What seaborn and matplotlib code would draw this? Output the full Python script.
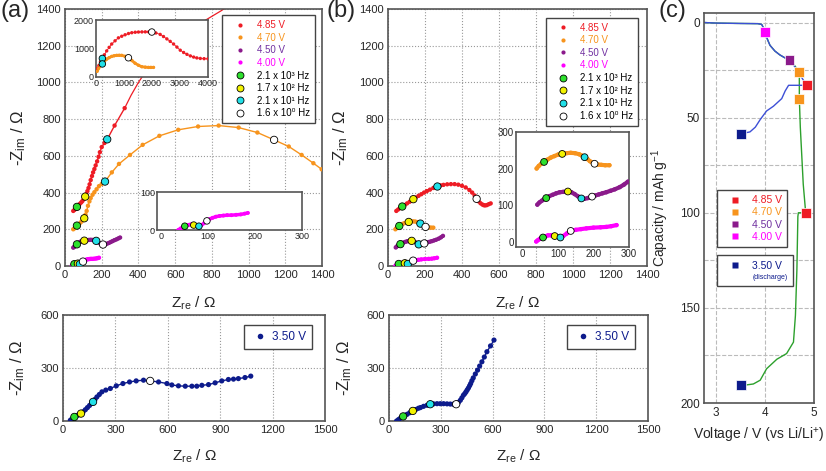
import matplotlib.pyplot as plt
import matplotlib.ticker as mticker
from matplotlib.lines import Line2D
import seaborn as sns

sns.set_style("white")
plt.rcParams['font.family'] = ['Liberation Sans', 'DejaVu Sans']
plt.rcParams['mathtext.fontset'] = 'custom'
plt.rcParams['mathtext.rm'] = 'Liberation Sans'
plt.rcParams['mathtext.it'] = 'Liberation Sans:italic'

# ---- colores
ROJO = '#ee1c25'
NARANJA = '#f7941d'
MORADO = '#8b1a8b'
MAGENTA = '#ff00ff'
AZUL = '#0d1b8c'
V_COLORES = [ROJO, NARANJA, MORADO, MAGENTA]
V_TEXTO = [ROJO, NARANJA, '#7030a0', MAGENTA]
F_COLORES = ['#2ee02e', '#f2f200', '#22e0e8', 'white']

V_LABELS = ['4.85 V', '4.70 V', '4.50 V', '4.00 V']
F_LABELS = ['2.1 x 10\u00b3 Hz', '1.7 x 10\u00b2 Hz', '2.1 x 10\u00b9 Hz', '1.6 x 10\u2070 Hz']

# ---- (a) Nyquist, carga
a_red_x = [45, 52, 58, 65, 72, 80, 88, 95, 103, 110, 116, 122, 128, 134, 140, 147, 153, 160, 167, 175, 183, 190, 200, 215, 230, 270, 325]
a_red_y = [300, 306, 313, 322, 330, 338, 346, 354, 365, 378, 392, 408, 425, 445, 468, 490, 510, 528, 548, 570, 595, 620, 648, 670, 690, 765, 860]
a_red_fit_x = [325, 360, 400, 450, 550, 650, 750, 850, 880]
a_red_fit_y = [860, 930, 1000, 1075, 1190, 1270, 1330, 1390, 1410]
a_red_f = ([65, 110, 230], [322, 378, 690])

a_or_x = [45, 52, 58, 65, 72, 80, 88, 95, 105, 112, 118, 125, 133, 140, 150, 160, 172, 185, 200, 218, 255, 294, 354, 423, 514, 617, 725, 837, 946, 1048, 1139, 1219, 1289, 1353, 1398]
a_or_y = [200, 206, 212, 220, 226, 232, 240, 248, 260, 280, 300, 328, 352, 370, 388, 402, 418, 435, 447, 460, 510, 556, 605, 660, 709, 742, 760, 765, 754, 727, 687, 651, 605, 560, 527]
a_or_f = ([65, 105, 218, 1139], [220, 260, 460, 687])

a_pu_x = [45, 50, 55, 60, 65, 70, 76, 83, 90, 98, 105, 112, 120, 130, 140, 150, 160, 170, 180, 190, 200, 210, 220, 230, 240, 250, 260, 270, 280, 290, 300]
a_pu_y = [100, 104, 108, 113, 118, 123, 128, 132, 135, 137, 138, 138, 140, 142, 143, 142, 140, 137, 131, 124, 119, 117, 118, 122, 126, 131, 136, 141, 145, 150, 155]
a_pu_f = ([65, 105, 170, 207], [118, 138, 137, 117])

a_mg_x = [37, 42, 47, 51, 56, 61, 65, 70, 75, 81, 86, 92, 98, 104, 110, 117, 125, 133, 141, 150, 160, 170, 178, 185]
a_mg_y = [0, 4, 7, 10, 12, 14, 15, 13, 11, 10, 12, 18, 24, 29, 32, 35, 37, 38, 39, 39, 40, 41, 43, 45]
a_mg_f = ([51, 70, 81, 98], [10, 13, 10, 24])

# inset (a): barrido completo 4.85 / 4.70 V
ins_red_x = [50, 100, 160, 227, 300, 382, 470, 561, 680, 800, 920, 1039, 1160, 1278, 1400, 1516, 1640, 1760, 1880, 1994, 2140, 2292, 2410, 2531, 2650, 2770, 2890, 3009, 3130, 3248, 3370, 3487, 3600, 3725, 3860, 4000]
ins_red_y = [300, 400, 530, 651, 780, 916, 1040, 1157, 1270, 1374, 1430, 1482, 1525, 1554, 1570, 1578, 1582, 1584, 1583, 1578, 1545, 1494, 1420, 1337, 1250, 1157, 1050, 940, 860, 795, 740, 699, 670, 651, 643, 639]
ins_red_f = ([227, 1994], [651, 1578])
ins_or_x = [40, 90, 150, 227, 300, 382, 470, 561, 650, 740, 830, 919, 1040, 1158, 1280, 1397, 1520, 1636, 1760, 1875, 1960, 2054]
ins_or_y = [200, 300, 390, 458, 550, 627, 680, 723, 745, 759, 762, 759, 725, 675, 580, 482, 410, 361, 345, 337, 337, 337]
ins_or_f = ([227, 1158], [458, 675])

# ---- (b) Nyquist
b_red_x = [45, 55, 65, 77, 90, 103, 117, 130, 137, 150, 165, 180, 195, 210, 227, 245, 267, 285, 300, 320, 340, 360, 380, 400, 420, 440, 455, 468, 479, 490, 500, 510, 518, 526, 535, 545, 555]
b_red_y = [300, 308, 316, 324, 332, 341, 350, 358, 364, 373, 382, 391, 400, 408, 416, 425, 433, 439, 442, 445, 446, 446, 443, 437, 428, 414, 400, 384, 366, 352, 342, 335, 331, 330, 332, 337, 341]
b_red_f = ([77, 137, 267, 479], [324, 364, 433, 366])

b_or_x = [40, 46, 53, 61, 70, 80, 90, 100, 112, 124, 136, 148, 160, 168, 175, 183, 190, 197, 203, 212, 222, 233, 245]
b_or_y = [200, 207, 213, 218, 224, 230, 234, 238, 240, 242, 243, 242, 239, 235, 231, 226, 220, 216, 213, 211, 210, 209, 209]
b_or_f = ([61, 112, 175, 203], [218, 240, 231, 213])

b_pu_x = [42, 48, 55, 61, 67, 75, 85, 95, 105, 115, 128, 138, 147, 156, 166, 175, 184, 190, 196, 205, 215, 225, 236, 248, 260, 274, 286, 297]
b_pu_y = [101, 107, 112, 116, 119, 124, 128, 132, 135, 136, 137, 135, 130, 124, 118, 117, 119, 121, 123, 126, 129, 132, 135, 139, 143, 149, 156, 164]
b_pu_f = ([67, 128, 166, 196], [119, 137, 118, 123])

b_mg_x = [39, 44, 50, 58, 65, 72, 80, 91, 100, 107, 115, 125, 136, 150, 165, 180, 200, 220, 236, 250, 265]
b_mg_y = [0, 4, 8, 11, 14, 17, 17, 15, 13, 11, 15, 22, 29, 32, 34, 36, 38, 39, 40, 42, 45]
b_mg_f = ([58, 91, 107, 136], [11, 15, 11, 29])

# ---- 3.50 V (descarga)
a_d_x = [42, 50, 58, 65, 75, 85, 95, 103, 115, 128, 140, 152, 163, 172, 183, 194, 208, 223, 245, 271, 305, 343, 381, 419, 461, 499, 547, 595, 623, 661, 700, 738, 766, 795, 833, 871, 909, 947, 976, 1004, 1042, 1075]
a_d_y = [4, 10, 17, 23, 28, 33, 38, 42, 52, 64, 76, 88, 99, 108, 122, 136, 150, 165, 175, 184, 199, 212, 221, 227, 231, 227, 221, 212, 204, 199, 197, 197, 197, 202, 206, 216, 227, 235, 237, 240, 246, 254]
a_d_f = ([65, 103, 172, 499], [23, 42, 108, 227])

b_d_x = [44, 55, 65, 75, 82, 92, 105, 120, 138, 155, 170, 182, 200, 220, 239, 258, 278, 297, 316, 336, 355, 372, 389, 402, 413, 422, 431, 439, 446, 453, 460, 467, 473, 480, 488, 500, 513, 525, 538, 552, 567, 588, 608]
b_d_y = [0, 8, 15, 21, 26, 32, 38, 47, 57, 65, 72, 76, 83, 89, 95, 97, 98, 98, 98, 97, 96, 95, 95, 105, 117, 131, 146, 155, 165, 176, 187, 200, 212, 228, 244, 266, 288, 311, 335, 362, 392, 425, 458]
b_d_f = ([82, 138, 239, 389], [26, 57, 95, 95])

# ---- (c) curvas de carga / descarga
c_verde_v = [2.75, 3.0, 3.5, 3.85, 3.93, 3.97, 4.0, 4.05, 4.1, 4.2, 4.3, 4.4, 4.5, 4.6, 4.7, 4.7, 4.7, 4.72, 4.75, 4.78, 4.83,
             4.68, 4.67, 4.65, 4.62, 4.58, 4.44, 4.24, 4.03, 3.9, 3.76, 3.56, 3.5]
c_verde_q = [0, 0.3, 0.5, 0.6, 1.0, 3, 5, 9, 12, 15, 17, 18.5, 19.5, 22.5, 26, 32, 40, 55, 70, 85, 100,
             100, 102, 130, 154, 168, 174, 177, 182, 188, 190, 190.7, 190.7]
c_azul_v = [2.75, 3.0, 3.5, 3.85, 3.93, 3.97, 4.0, 4.05, 4.1, 4.2, 4.3, 4.4, 4.5, 4.6, 4.7, 4.8, 4.85,
            4.48, 4.41, 4.34, 4.17, 4.03, 3.9, 3.8, 3.69, 3.52, 3.5]
c_azul_q = [0, 0.3, 0.5, 0.6, 1.0, 3, 5, 9, 12, 15, 17, 18.5, 19.5, 23, 27, 31, 33,
            33, 36, 40, 44, 46.5, 51, 55, 57.5, 58.4, 58.5]
c_sq_v = [4.0, 4.5, 4.7, 4.85, 4.7, 3.5, 4.83, 3.5]
c_sq_q = [5, 19.5, 26, 33, 40, 58.5, 100, 190.5]
c_sq_col = [MAGENTA, MORADO, NARANJA, ROJO, NARANJA, AZUL, ROJO, AZUL]

W, H = 826, 471
fig = plt.figure(figsize=(W / 100, H / 100), dpi=100)


def ejes(l, t, r, b):
    # posición en píxeles de la imagen original
    return fig.add_axes([l / W, 1 - b / H, (r - l) / W, (b - t) / H])


def estilo(ax, fs=8, grid=True):
    for sp in ax.spines.values():
        sp.set_color('#555555')
        sp.set_linewidth(1.2)
    ax.tick_params(labelsize=fs, direction='in', length=2.5, color='#555555', pad=3)
    if grid:
        ax.grid(True, ls=':', color='#999999', lw=0.8)
    ax.set_axisbelow(True)


def serie(ax, x, y, color, s=10, lw=1.0):
    sns.lineplot(x=x, y=y, sort=False, estimator=None, color=color, lw=lw, ax=ax)
    sns.scatterplot(x=x, y=y, color=color, s=s, edgecolor='none', ax=ax, zorder=3)


def frecuencias(ax, f, colores=F_COLORES, s=28):
    fx, fy = f
    sns.scatterplot(x=fx, y=fy, hue=list(range(len(fx))), palette=colores[:len(fx)], s=s,
                    edgecolor='black', linewidth=0.6, legend=False, ax=ax, zorder=4)


def leyenda_z(ax, anchor):
    hs = [Line2D([], [], ls='none', marker='o', ms=3, mfc=c, mec='none') for c in V_COLORES]
    hs += [Line2D([], [], ls='none', marker='o', ms=5, mfc=c, mec='black', mew=0.6) for c in F_COLORES]
    leg = ax.legend(hs, V_LABELS + F_LABELS, loc='upper right', bbox_to_anchor=anchor, fontsize=7,
                    fancybox=False, edgecolor='#444444', framealpha=1, labelspacing=0.27,
                    handletextpad=0.45, borderpad=0.5, handlelength=2.6)
    leg.get_frame().set_linewidth(1.0)
    for t, c in zip(leg.get_texts(), V_TEXTO + ['black'] * 4):
        t.set_color(c)


def etiquetas_z(ax, yl=-0.15, xl=-0.11):
    ax.set_xlabel('Z$_{\\rm re}$ / \u03a9', fontsize=11)
    ax.set_ylabel('-Z$_{\\rm im}$ / \u03a9', fontsize=12)
    ax.xaxis.set_label_coords(0.5, xl)
    ax.yaxis.set_label_coords(yl, 0.5)


# ================= (a) arriba
ax = ejes(65, 9, 322, 266)
estilo(ax)
serie(ax, a_red_x, a_red_y, ROJO)
sns.lineplot(x=a_red_fit_x, y=a_red_fit_y, sort=False, estimator=None, color=ROJO, lw=0.9, ax=ax)
serie(ax, a_or_x, a_or_y, NARANJA)
serie(ax, a_pu_x, a_pu_y, MORADO, lw=2.5)
serie(ax, a_mg_x, a_mg_y, MAGENTA, lw=2.5)
for f in [a_red_f, a_or_f, a_pu_f, a_mg_f]:
    frecuencias(ax, f)
ax.set_xlim(0, 1400)
ax.set_ylim(0, 1400)
ax.xaxis.set_major_locator(mticker.MultipleLocator(200))
ax.yaxis.set_major_locator(mticker.MultipleLocator(200))
etiquetas_z(ax, yl=-0.145)
leyenda_z(ax, (0.99, 0.995))

ins = ejes(96, 20, 208, 77)
estilo(ins, fs=6.5, grid=False)
serie(ins, ins_red_x, ins_red_y, ROJO, s=6, lw=0.6)
serie(ins, ins_or_x, ins_or_y, NARANJA, s=6, lw=2)
frecuencias(ins, ins_red_f, [F_COLORES[2], F_COLORES[3]], s=22)
frecuencias(ins, ins_or_f, [F_COLORES[2], F_COLORES[3]], s=22)
ins.set_xlim(0, 4000)
ins.set_ylim(0, 2000)
ins.set_xticks([0, 1000, 2000, 3000, 4000])
ins.set_yticks([0, 1000, 2000])
ins.tick_params(pad=1.5)

ins = ejes(157, 192, 302, 230)
estilo(ins, fs=6.5, grid=False)
serie(ins, a_mg_x, a_mg_y, MAGENTA, s=8, lw=2.5)
frecuencias(ins, a_mg_f, s=22)
ins.set_xlim(-8, 300)
ins.set_ylim(0, 100)
ins.set_xticks([0, 100, 200, 300])
ins.set_yticks([0, 100])
ins.tick_params(pad=1.5)

# ================= (b) arriba
ax = ejes(388, 9, 647, 266)
estilo(ax)
serie(ax, b_red_x, b_red_y, ROJO)
serie(ax, b_or_x, b_or_y, NARANJA, lw=2.5)
serie(ax, b_pu_x, b_pu_y, MORADO, lw=2.5)
serie(ax, b_mg_x, b_mg_y, MAGENTA, lw=2.5)
for f in [b_red_f, b_or_f, b_pu_f, b_mg_f]:
    frecuencias(ax, f)
ax.set_xlim(0, 1400)
ax.set_ylim(0, 1400)
ax.xaxis.set_major_locator(mticker.MultipleLocator(200))
ax.yaxis.set_major_locator(mticker.MultipleLocator(200))
etiquetas_z(ax, yl=-0.145)
leyenda_z(ax, (0.985, 0.985))

ins = ejes(516, 132, 629, 247)
estilo(ins, fs=7, grid=False)
serie(ins, b_or_x, b_or_y, NARANJA, s=10, lw=3)
serie(ins, b_pu_x, b_pu_y, MORADO, s=10, lw=3)
serie(ins, b_mg_x, b_mg_y, MAGENTA, s=10, lw=3)
for f in [b_or_f, b_pu_f, b_mg_f]:
    frecuencias(ins, f, s=24)
ins.set_xlim(-18, 300)
ins.set_ylim(-15, 300)
ins.set_xticks([0, 100, 200, 300])
ins.set_yticks([0, 100, 200, 300])
ins.tick_params(pad=1.5)

# ================= 3.50 V abajo
for (l, r), dx, dy, df in [((63, 325), a_d_x, a_d_y, a_d_f), ((389, 648), b_d_x, b_d_y, b_d_f)]:
    ax = ejes(l, 315, r, 421)
    estilo(ax)
    serie(ax, dx, dy, AZUL, s=14, lw=1.0)
    frecuencias(ax, df)
    ax.set_xlim(0, 1500)
    ax.set_ylim(0, 600)
    ax.xaxis.set_major_locator(mticker.MultipleLocator(300))
    ax.yaxis.set_major_locator(mticker.MultipleLocator(300))
    etiquetas_z(ax, yl=-0.137, xl=-0.25)
    leg = ax.legend([Line2D([], [], ls='none', marker='o', ms=4, mfc=AZUL, mec='none')], ['3.50 V'],
                    loc='upper right', bbox_to_anchor=(0.973, 0.962), fontsize=8.5, fancybox=False,
                    edgecolor='#444444', framealpha=1, handletextpad=0.25, borderpad=0.5, handlelength=1.6)
    leg.get_frame().set_linewidth(1.0)
    leg.get_texts()[0].set_color(AZUL)

# ================= (c)
ax = ejes(704, 13, 814, 403)
estilo(ax, fs=8.5, grid=False)
ax.grid(True, which='both', ls='--', color='#bbbbbb', lw=0.8)
sns.lineplot(x=c_verde_v, y=c_verde_q, sort=False, estimator=None, color='#2ca02c', lw=1.0, ax=ax)
sns.lineplot(x=c_azul_v, y=c_azul_q, sort=False, estimator=None, color='#3d4fd6', lw=1.0, ax=ax)
sns.scatterplot(x=c_sq_v, y=c_sq_q, hue=list(range(len(c_sq_v))), palette=c_sq_col, marker='s', s=50,
                edgecolor='white', linewidth=0.5, legend=False, ax=ax, zorder=4)
ax.set_xlim(2.75, 5.0)
ax.set_ylim(200, -5)
ax.set_xticks([3, 4, 5])
ax.yaxis.set_major_locator(mticker.MultipleLocator(50))
ax.yaxis.set_minor_locator(mticker.MultipleLocator(25))
ax.tick_params(which='minor', length=0)
ax.set_xlabel('Voltage / V (vs Li/Li$^{+}$)', fontsize=10)
ax.set_ylabel('Capacity / mAh g$^{-1}$', fontsize=10)
ax.xaxis.set_label_coords(0.5, -0.06)
ax.yaxis.set_label_coords(-0.30, 0.5)

hs = [Line2D([], [], ls='none', marker='s', ms=5, mfc=c, mec='none') for c in V_COLORES]
leg1 = ax.legend(hs, V_LABELS, loc='upper left', bbox_to_anchor=(0.073, 0.559), fontsize=7.5,
                 fancybox=False, edgecolor='#444444', framealpha=1, labelspacing=0.2,
                 handletextpad=0.36, borderpad=0.5, handlelength=2.5)
leg1.get_frame().set_linewidth(1.0)
for t, c in zip(leg1.get_texts(), V_TEXTO):
    t.set_color(c)
ax.add_artist(leg1)
hs = [Line2D([], [], ls='none', marker='s', ms=5, mfc=AZUL, mec='none'), Line2D([], [], ls='none')]
leg2 = ax.legend(hs, ['3.50 V', '(discharge)'], loc='upper left', bbox_to_anchor=(0.073, 0.392), fontsize=7.5,
                 fancybox=False, edgecolor='#444444', framealpha=1, labelspacing=0.1,
                 handletextpad=0.36, borderpad=0.5, handlelength=2.5)
leg2.get_frame().set_linewidth(1.0)
for t in leg2.get_texts():
    t.set_color(AZUL)
leg2.get_texts()[1].set_fontsize(5)

# rótulos de panel
fig.text(0 / W, 1 - 0 / H, '(a)', fontsize=17, va='top', ha='left')
fig.text(327 / W, 1 - 0 / H, '(b)', fontsize=17, va='top', ha='left')
fig.text(658 / W, 1 - 0 / H, '(c)', fontsize=17, va='top', ha='left')

fig.savefig('out.png', dpi=100)
